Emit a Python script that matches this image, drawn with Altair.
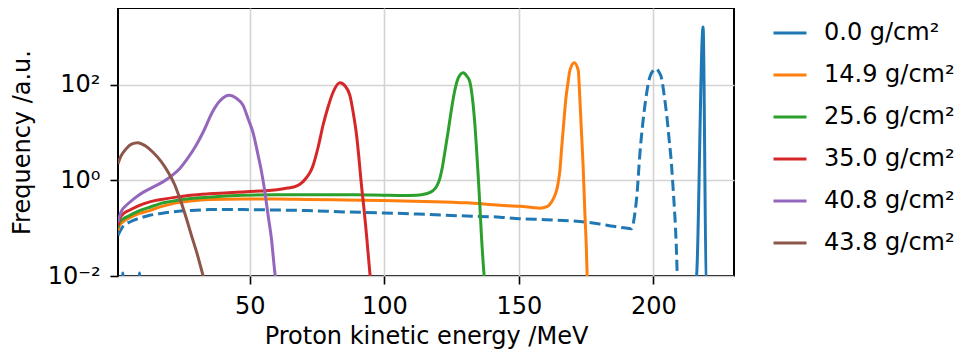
import altair as alt
import pandas as pd

# ---- data (energy in MeV, frequency in a.u.) ----
labels = ["0.0 g/cm²", "14.9 g/cm²", "25.6 g/cm²", "35.0 g/cm²", "40.8 g/cm²", "43.8 g/cm²"]
colors = ["#1f77b4", "#ff7f0e", "#2ca02c", "#d62728", "#9467bd", "#8c564b"]

e_00 = [1.0, 2.5, 2.8, 3.1, 8.7, 9.0, 9.3, 215.9, 218.5, 219.7, 230.0]
f_00 = [0.004, 0.004, 0.0115, 0.004, 0.004, 0.0115, 0.004, 0.008, 1620, 0.008, 0.004]

e_149 = [1.0, 1.6, 3, 5.4, 9, 12.8, 17, 22.7, 28, 35.1, 47.5, 60, 71, 85, 99.6, 115, 130.6,
         143, 150.4, 155, 157.8, 160.5, 162.2, 163.5, 164.0, 164.6, 165.3, 165.9, 166.7, 167.5,
         168.3, 169, 170.6, 172.1, 172.7, 173.3, 173.9, 174.6, 175.1, 175.4, 176.2]
f_149 = [0.089, 0.115, 0.138, 0.166, 0.204, 0.234, 0.282, 0.339, 0.372, 0.398, 0.407, 0.407,
         0.398, 0.389, 0.380, 0.363, 0.339, 0.302, 0.288, 0.272, 0.263, 0.282, 0.355, 0.501,
         0.603, 0.871, 1.66, 4.57, 15.8, 51.3, 112, 200, 288, 200, 51.3, 10.2, 2.04, 0.186,
         0.040, 0.0107, 0.0032]

e_256 = [1.0, 1.6, 3, 5.4, 9, 12.8, 17, 22.7, 28, 35, 47.5, 60, 71, 81, 90, 99.6, 106, 112,
         115.5, 118.2, 119.5, 120.6, 121.6, 122.5, 123.8, 125, 126.2, 127.4, 129.3, 130.7,
         131.8, 132.8, 133.7, 134.3, 134.9, 135.5, 136.1, 137.0, 137.8]
f_256 = [0.100, 0.135, 0.158, 0.186, 0.234, 0.275, 0.331, 0.380, 0.417, 0.447, 0.490, 0.501,
         0.501, 0.501, 0.501, 0.490, 0.484, 0.490, 0.525, 0.617, 0.759, 1.08, 1.91, 3.89, 11.2,
         31.6, 75.9, 135, 178, 151, 115, 50.1, 14.1, 4.47, 1.26, 0.316, 0.071, 0.012, 0.0032]

e_350 = [1.0, 1.6, 3, 5.4, 9, 12.8, 17, 22.7, 28, 35, 42, 47.5, 54, 60, 64, 67.3, 69.5, 71.1,
         72.5, 73.5, 75.5, 77.2, 79, 81, 83.5, 85.5, 87.2, 88.5, 89.7, 90.6, 91.5, 92.5, 93.4,
         94.6, 95.5]
f_350 = [0.112, 0.158, 0.200, 0.240, 0.302, 0.355, 0.398, 0.447, 0.490, 0.525, 0.550, 0.575,
         0.603, 0.638, 0.692, 0.759, 0.912, 1.15, 1.51, 2.04, 5.25, 14.1, 33.1, 70.8, 110, 93.3,
         60.3, 25.1, 8.71, 2.82, 0.794, 0.240, 0.071, 0.012, 0.004]

e_408 = [1.0, 2, 3, 4.1, 7, 10.3, 14, 18, 21, 24, 27, 30, 33, 36, 39, 42.4, 45, 47.5, 49.5,
         51.2, 53, 54.3, 55.5, 56.8, 58, 59.3, 60.5]
f_408 = [0.135, 0.209, 0.263, 0.302, 0.417, 0.562, 0.724, 0.955, 1.26, 1.78, 2.95, 5.37, 11.2,
         26.3, 46.8, 60.3, 52.5, 37.2, 18.6, 10.0, 3.55, 1.58, 0.631, 0.186, 0.063, 0.012, 0.004]

e_438 = [1.0, 2, 4, 6, 8.4, 11, 14, 17, 19.6, 22, 24, 26, 28.3, 30.5, 32.6, 34.5]
f_438 = [2.24, 3.16, 4.57, 5.75, 6.17, 5.37, 3.89, 2.51, 1.50, 0.832, 0.417, 0.191, 0.071,
         0.028, 0.0102, 0.004]

# dashed blue curve (no legend entry)
e_dash = [1.0, 1.6, 3, 5.4, 9, 12.8, 17, 22.7, 28, 35.1, 47.5, 60, 71.1, 85, 99.6, 115, 130.6,
          143, 150.4, 160, 172.7, 180, 185.1, 189, 191.9, 193.0, 194.0, 195, 196, 197, 198.7,
          200, 201, 202, 203.1, 204, 205, 205.9, 206.8, 207.4, 208, 208.5, 208.9, 209.5]
f_dash = [0.071, 0.083, 0.112, 0.135, 0.162, 0.186, 0.204, 0.224, 0.234, 0.245, 0.245, 0.240,
          0.234, 0.219, 0.209, 0.195, 0.180, 0.170, 0.158, 0.151, 0.138, 0.123, 0.110, 0.102,
          0.098, 0.178, 0.562, 3.55, 14.1, 41.7, 145, 200, 219, 191, 135, 63.1, 22.9, 7.08,
          2.04, 0.631, 0.186, 0.050, 0.0107, 0.0025]

series = [(labels[0], e_00, f_00), (labels[1], e_149, f_149), (labels[2], e_256, f_256),
          (labels[3], e_350, f_350), (labels[4], e_408, f_408), (labels[5], e_438, f_438)]

rows = []
for order, (lab, es, fs) in enumerate(series):
    for i, (e, f) in enumerate(zip(es, fs)):
        rows.append({"series": lab, "E": e, "F": f, "k": order * 1000 + i})
df = pd.DataFrame(rows)
df_dash = pd.DataFrame({"E": e_dash, "F": f_dash})

x_scale = alt.Scale(domain=[1, 230], nice=False, zero=False)
y_scale = alt.Scale(type="log", domain=[0.01, 4050], nice=False)

x_axis = alt.Axis(values=[50, 100, 150, 200], title="Proton kinetic energy /MeV",
                  labelBaseline="alphabetic", labelPadding=29,
                  titleBaseline="alphabetic", titleY=67)
y_axis = alt.Axis(values=[0.01, 1, 100], title="Frequency /a.u.",
                  labelExpr="datum.value == 100 ? '10²' : (datum.value == 1 ? '10⁰' : '10⁻²')",
                  labelPadding=10, labelBaseline="middle",
                  titleAngle=-90, titleBaseline="alphabetic", titleX=-89, titleY=134,
                  titleAlign="center")

dashed = alt.Chart(df_dash).mark_line(
    color="#1f77b4", strokeWidth=3, strokeDash=[11, 5], clip=True, interpolate="monotone"
).encode(
    x=alt.X("E:Q", scale=x_scale, axis=x_axis),
    y=alt.Y("F:Q", scale=y_scale, axis=y_axis),
)

lines = alt.Chart(df).mark_line(strokeWidth=3, clip=True, interpolate="monotone").encode(
    x=alt.X("E:Q", scale=x_scale, axis=x_axis),
    y=alt.Y("F:Q", scale=y_scale, axis=y_axis),
    color=alt.Color("series:N", scale=alt.Scale(domain=labels, range=colors),
                    legend=alt.Legend(title=None, orient="none", legendX=654, legendY=7,
                                      symbolType="stroke", symbolSize=1089,
                                      symbolStrokeWidth=3, labelFontSize=24,
                                      labelColor="black", labelOffset=16, rowPadding=12,
                                      labelLimit=300, padding=0)),
    order=alt.Order("k:Q"),
)

chart = alt.layer(dashed, lines).properties(
    width=616, height=268,
    autosize=alt.AutoSizeParams(type="none"),
    padding={"left": 110, "top": 0, "right": 220, "bottom": 73},
).configure(font="DejaVu Sans").configure_view(
    stroke="black", strokeWidth=2
).configure_axis(
    domain=False, grid=True, gridColor="#d3d3d3", gridWidth=1.6,
    tickColor="black", tickWidth=1.6, tickSize=8,
    labelFontSize=24, labelColor="black", labelFont="DejaVu Sans",
    titleFontSize=24, titleColor="black", titleFontWeight="normal", titleFont="DejaVu Sans",
).configure_legend(labelFont="DejaVu Sans")

chart.save("out.html", embed_options={"renderer": "svg", "actions": False})
